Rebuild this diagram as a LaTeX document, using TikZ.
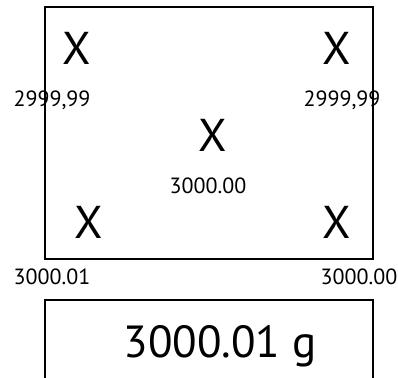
\documentclass[tikz,border=0pt]{standalone}
\usepackage{fontspec}
\setmainfont{PT Sans}
\usetikzlibrary{positioning}

\begin{document}
\begin{tikzpicture}[x=1pt,y=-1pt,
  cross/.style={font=\fontsize{46}{46}\selectfont,inner sep=0pt},
  reading/.style={font=\fontsize{22}{22}\selectfont,inner sep=0pt},
  total/.style={font=\fontsize{45}{45}\selectfont,inner sep=0pt,anchor=base},
  frame/.style={draw=black,line width=1.1pt}]
  \useasboundingbox (0,0) rectangle (398,377);
  % plate
  \draw[frame] (45,7) rectangle (373,259);
  % display, cut off at the bottom
  \draw[frame] (45,380) -- (45,300) -- (373,300) -- (373,380);
  \node[cross] (xtl) at (77,48)  {X};
  \node[cross] (xtr) at (337,48) {X};
  \node[cross] (xc)  at (213,135){X};
  \node[cross] (xbl) at (89,222) {X};
  \node[cross] (xbr) at (337,222){X};
  \node[reading] (rtl) at (52,100)   {2999,99};
  \node[reading] (rtr) at (342,100)  {2999,99};
  \node[reading] (rc)  at (208,185.5){3000.00};
  \node[reading] (rbl) at (52,277)   {3000.01};
  \node[reading] (rbr) at (359,277)  {3000.00};
  \node[total] (disp) at (220,357) {3000.01 g};
\end{tikzpicture}
\end{document}
